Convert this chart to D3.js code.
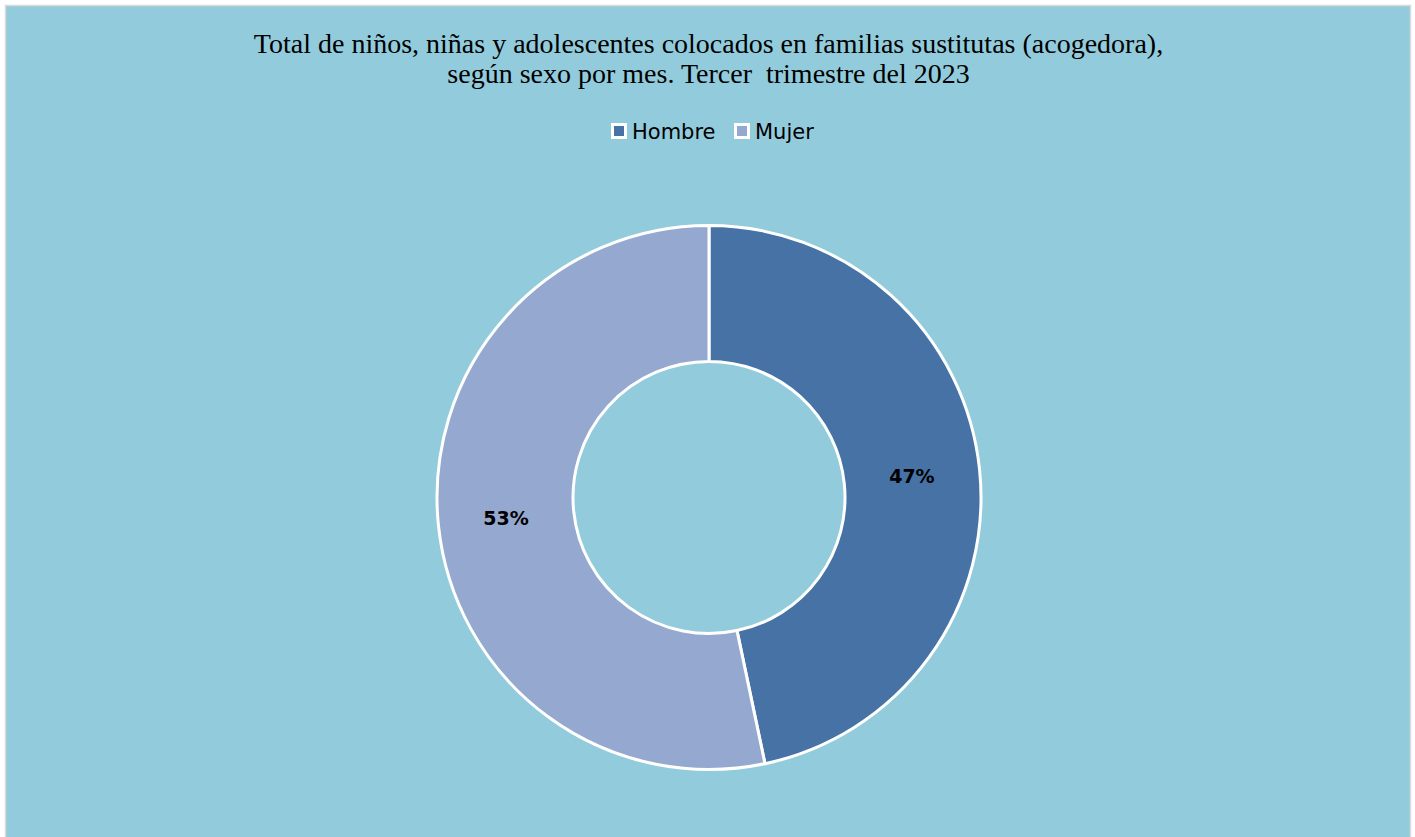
<!DOCTYPE html>
<html>
<head>
<meta charset="utf-8">
<script src="https://cdn.jsdelivr.net/npm/d3@7"></script>
<style>
html,body{margin:0;padding:0;background:#ffffff;}
svg{display:block;}
</style>
</head>
<body>
<svg id="chart" width="1415" height="837"></svg>
<script>
const titleLines = ["Total de niños, niñas y adolescentes colocados en familias sustitutas (acogedora),",
                    "según sexo por mes. Tercer  trimestre del 2023"];
const categories = ["Hombre", "Mujer"];
const values = [46.7, 53.3];
const colors = ["#4672A6", "#95A9D0"];

const W = 1415, H = 837;
const svg = d3.select("#chart");

svg.append("rect").attr("x", 5.5).attr("y", 5.5).attr("width", 1405).attr("height", 840)
  .attr("fill", "#92CCDC").attr("stroke", "#D9D9D9").attr("stroke-width", 1.5);

const title = svg.append("text").attr("text-anchor", "middle")
  .attr("font-family", "'Liberation Serif','Times New Roman',serif")
  .attr("font-size", 28).attr("fill", "#000").style("white-space", "pre");
titleLines.forEach((t, i) => {
  title.append("tspan").attr("x", 708.5).attr("y", 53 + i * 30).text(t);
});

// legend
const legend = svg.append("g");
const legX = [611, 734];
categories.forEach((c, i) => {
  const g = legend.append("g").attr("transform", `translate(${legX[i]},123)`);
  g.append("rect").attr("x", 1.5).attr("y", 1.5).attr("width", 13).attr("height", 13)
    .attr("fill", colors[i]).attr("stroke", "#fff").attr("stroke-width", 3);
  g.append("text").attr("x", 21).attr("y", 15.5)
    .attr("font-family", "'DejaVu Sans',Verdana,sans-serif").attr("font-size", 21)
    .attr("fill", "#000").text(c);
});

// donut
const cx = 709, cy = 497.5, rOuter = 272, rInner = 136;
const pie = d3.pie().sort(null).value(d => d)(values);
const arc = d3.arc().innerRadius(rInner).outerRadius(rOuter);
const total = d3.sum(values);
const g = svg.append("g").attr("transform", `translate(${cx},${cy})`);
g.selectAll("path").data(pie).join("path")
  .attr("d", arc).attr("fill", (d, i) => colors[i])
  .attr("stroke", "#fff").attr("stroke-width", 3).attr("stroke-linejoin", "round");
g.selectAll("text.lbl").data(pie).join("text").attr("class", "lbl")
  .attr("transform", d => { const c = arc.centroid(d); return `translate(${c[0]},${c[1]})`; })
  .attr("text-anchor", "middle").attr("dy", "0.36em")
  .attr("font-family", "'DejaVu Sans',Verdana,sans-serif").attr("font-weight", "bold")
  .attr("font-size", 19).attr("fill", "#000")
  .text(d => Math.round(d.data / total * 100) + "%");
</script>
</body>
</html>
